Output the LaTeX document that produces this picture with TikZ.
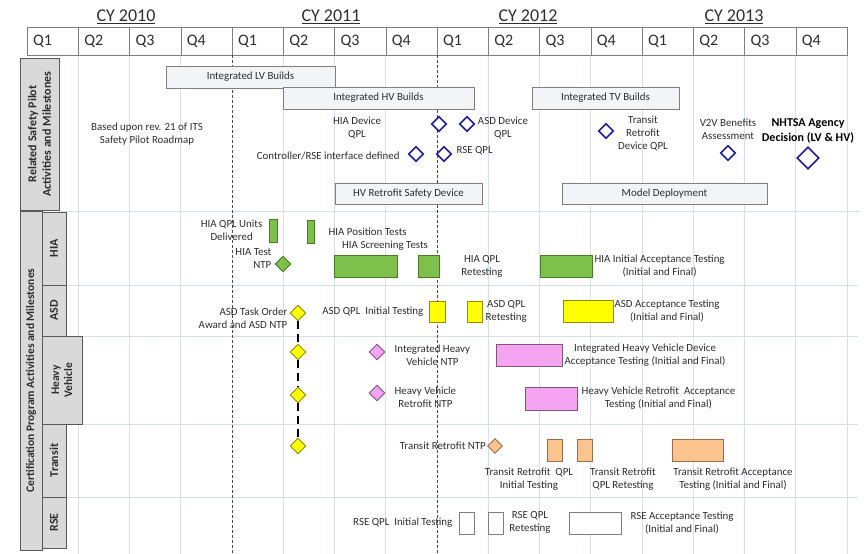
\documentclass[tikz,border=0pt]{standalone}
\usepackage{fontspec}
\setmainfont{Carlito}
\usepackage{xcolor}
\usepackage{tikz}
\usetikzlibrary{shapes.geometric}
\usetikzlibrary{positioning}
\definecolor{txt}{HTML}{2E2E2E}
\definecolor{hdrgray}{HTML}{7F7F7F}
\definecolor{gridc}{HTML}{D6E1E6}
\definecolor{phasefill}{HTML}{F1F5F7}
\definecolor{msblue}{HTML}{1E1E9E}
\definecolor{hiagreen}{HTML}{7DC04B}
\definecolor{hiadark}{HTML}{4C7A2B}
\definecolor{asdyel}{HTML}{FFFF00}
\definecolor{asddark}{HTML}{8C8C10}
\definecolor{hvpink}{HTML}{F4A4F0}
\definecolor{hvdark}{HTML}{7F567D}
\definecolor{trorange}{HTML}{FBC38D}
\definecolor{trdark}{HTML}{9A6E48}
\definecolor{sidefill}{HTML}{D9D9D9}
\definecolor{sidedark}{HTML}{595959}

\begin{document}
\begin{tikzpicture}[x=1pt,y=-1pt,node distance=4pt]
	\tikzstyle{lbl}=[text=txt, font=\fontsize{10.9}{13}\selectfont, align=center, inner sep=1pt]
	\tikzstyle{qbox}=[draw=hdrgray, text=txt, font=\fontsize{16}{18}\selectfont, minimum height=28pt, text width=39.25pt, inner xsep=6pt, align=left]
	\tikzstyle{phase}=[lbl, draw=hdrgray, fill=phasefill, minimum height=22pt, inner sep=0pt]
	\tikzstyle{ms}=[diamond, draw=msblue, line width=1.6pt, fill=white, minimum size=15pt, inner sep=0pt]
	\tikzstyle{bar}=[draw, line width=0.9pt, minimum height=22pt, inner sep=0pt]
	\tikzstyle{hiabar}=[bar, draw=hiadark, fill=hiagreen]
	\tikzstyle{asdbar}=[bar, draw=asddark, fill=asdyel]
	\tikzstyle{hvbar}=[bar, draw=hvdark, fill=hvpink]
	\tikzstyle{trbar}=[bar, draw=trdark, fill=trorange]
	\tikzstyle{rsebar}=[bar, draw=hdrgray, fill=white]
	\tikzstyle{hiams}=[ms, draw=hiadark, fill=hiagreen, line width=0.9pt, minimum size=16pt]
	\tikzstyle{asdms}=[ms, draw=asddark, fill=asdyel, line width=0.9pt, minimum size=16pt]
	\tikzstyle{hvms}=[ms, draw=hvdark, fill=hvpink, line width=0.9pt, minimum size=16pt]
	\tikzstyle{trms}=[ms, draw=trdark, fill=trorange, line width=0.9pt, minimum size=15pt]
	\tikzstyle{side}=[draw=sidedark, fill=sidefill, rotate=90, inner sep=1pt, align=center, text=txt, font=\bfseries\fontsize{12}{14.5}\selectfont]
	\tikzstyle{grid}=[draw=gridc, line width=0.6pt]
	\tikzstyle{yeardash}=[draw=black!70, line width=0.6pt, dash pattern=on 3pt off 2pt]
	\tikzstyle{ntpline}=[draw=black, line width=2pt, dash pattern=on 8pt off 5pt]
	\useasboundingbox (0,0) rectangle (865,554);

	% calendar header
	\node[lbl, font=\fontsize{18}{20}\selectfont] (cy10) at (126,17) {\underline{CY 2010}};
	\node[lbl, font=\fontsize{18}{20}\selectfont] (cy11) at (331,17) {\underline{CY 2011}};
	\node[lbl, font=\fontsize{18}{20}\selectfont] (cy12) at (528,17) {\underline{CY 2012}};
	\node[lbl, font=\fontsize{18}{20}\selectfont] (cy13) at (734,17) {\underline{CY 2013}};
	\foreach \q [count=\i from 0] in {1,2,3,4,1,2,3,4,1,2,3,4,1,2,3,4}
		\node[qbox] (q\i) at ({52.625+51.25*\i},41) {Q\q};

	% grid
	\foreach \x in {78.25,129.5,180.75,283.25,334.5,385.75,488.25,539.5,590.75,642,693.25,744.5,795.75,847}
		\draw[grid] (\x,56) -- (\x,554);
	\draw[grid] (59,211) -- (860,211);
	\draw[grid] (66,285) -- (858,285);
	\draw[grid] (82,336) -- (858,336);
	\draw[grid] (82,424) -- (858,424);
	\draw[grid] (66,497) -- (858,497);
	\draw[yeardash] (232.5,55) -- (232.5,554);
	\draw[yeardash] (437.5,55) -- (437.5,554);

	% side labels
	\node[side, minimum width=152pt, minimum height=39pt] (rsp) at (39.5,134) {Related Safety Pilot\\Activities and Milestones};
	\node[side, minimum width=339pt, minimum height=22pt, font=\bfseries\fontsize{11.5}{13}\selectfont] (cert) at (31,380.5) {Certification Program Activities and Milestones};
	\node[side, minimum width=73pt, minimum height=24pt] (shia) at (54,248.5) {HIA};
	\node[side, minimum width=51pt, minimum height=24pt] (sasd) at (54,310.5) {ASD};
	\node[side, minimum width=88pt, minimum height=40pt, font=\bfseries\fontsize{11.5}{13}\selectfont] (shv) at (62,380) {Heavy\\Vehicle};
	\node[side, minimum width=73pt, minimum height=24pt] (strans) at (54,460.5) {Transit};
	\node[side, minimum width=51pt, minimum height=24pt] (srse) at (54,522.5) {RSE};

	% safety pilot activities and milestones
	\node[phase, minimum width=169pt] (lvb) at (250.5,77) {Integrated LV Builds};
	\node[phase, minimum width=191pt] (hvb) at (378.5,98) {Integrated HV Builds};
	\node[phase, minimum width=147pt] (tvb) at (605.5,98) {Integrated TV Builds};
	\node[phase, minimum width=147pt, minimum height=21pt] (hvrsd) at (408.5,193.5) {HV Retrofit Safety Device};
	\node[phase, minimum width=205pt, minimum height=21pt] (mdep) at (664.5,193.5) {Model Deployment};
	\node[lbl] (note) at (147,134.5) {Based upon rev. 21 of ITS\\Safety Pilot Roadmap};
	\node[ms] (hiadq) at (439,124) {};
	\node[ms] (asddq) at (467,124) {};
	\node[ms] (ctrl) at (416,154) {};
	\node[ms] (rsedq) at (444,154) {};
	\node[ms] (trdq) at (606,131) {};
	\node[ms] (v2v) at (728,153) {};
	\node[ms, minimum size=22pt] (nhtsa) at (808,158) {};
	\node[lbl] (hiadqt) at (357,127.5) {HIA Device\\QPL};
	\node[lbl] (asddqt) at (503,127.5) {ASD Device\\QPL};
	\node[lbl, left=7pt of ctrl, yshift=-2pt] (ctrlt) {Controller/RSE interface defined};
	\node[lbl, right=3pt of rsedq, yshift=3pt] (rsedqt) {RSE QPL};
	\node[lbl] (trdqt) at (643,133.5) {Transit\\Retrofit\\Device QPL};
	\node[lbl, above=4pt of v2v] (v2vt) {V2V Benefits\\Assessment};
	\node[lbl, text=black, font=\bfseries\fontsize{12}{15}\selectfont, above=2pt of nhtsa] (nhtsat) {NHTSA Agency\\Decision (LV \& HV)};

	% HIA
	\node[hiabar, minimum width=8pt, minimum height=23pt] (hiau) at (273,230.5) {};
	\node[lbl, left=5pt of hiau] (hiaut) {HIA QPL Units\\Delivered};
	\node[hiams] (hiantp) at (283,264) {};
	\node[lbl, align=right, left=2pt of hiantp, yshift=5pt] (hiantpt) {HIA Test\\NTP};
	\node[hiabar, minimum width=7pt, minimum height=23pt] (hiapos) at (310.5,231.5) {};
	\node[lbl, right=13pt of hiapos] (hiapost) {HIA Position Tests};
	\node[lbl, anchor=west] (hiascrt) at (341,246) {HIA Screening Tests};
	\node[hiabar, minimum width=63pt] (hiascr) at (365.5,266) {};
	\node[hiabar, minimum width=21pt] (hiaqr) at (428.5,266) {};
	\node[lbl] (hiaqrt) at (482,266.5) {HIA QPL\\Retesting};
	\node[hiabar, minimum width=52pt] (hiaacc) at (566,266) {};
	\node[lbl, right=1pt of hiaacc] (hiaacct) {HIA Initial Acceptance Testing\\(Initial and Final)};

	% ASD
	\node[asdms] (asdntp) at (298,313) {};
	\node[lbl, align=right, left=1pt of asdntp, yshift=-5pt] (asdntpt) {ASD Task Order\\Award and ASD NTP};
	\node[asdbar, minimum width=16pt, minimum height=21pt] (asdq1) at (437,311.5) {};
	\node[lbl, left=4pt of asdq1] (asdq1t) {ASD QPL~ Initial Testing};
	\node[asdbar, minimum width=15pt, minimum height=21pt] (asdq2) at (474.5,311.5) {};
	\node[lbl, right=2pt of asdq2] (asdq2t) {ASD QPL\\Retesting};
	\node[asdbar, minimum width=50pt] (asdacc) at (588,311) {};
	\node[lbl, right=0pt of asdacc] (asdacct) {ASD Acceptance Testing\\(Initial and Final)};

	% Heavy Vehicle
	\node[asdms] (hvint) at (298,352) {};
	\node[asdms] (hvret) at (298,395) {};
	\node[asdms] (trans) at (298,446) {};
	\node[hvms] (hvintntp) at (377,352) {};
	\node[hvms] (hvretntp) at (377,393) {};
	\node[lbl, right=8pt of hvintntp, yshift=-3pt] (hvintntpt) {Integrated Heavy\\Vehicle NTP};
	\node[lbl, right=8pt of hvretntp, yshift=-4pt] (hvretntpt) {Heavy Vehicle\\Retrofit NTP};
	\node[hvbar, minimum width=66pt] (hvintacc) at (529,355) {};
	\node[lbl, right=1pt of hvintacc] (hvintacct) {Integrated Heavy Vehicle Device\\Acceptance Testing (Initial and Final)};
	\node[hvbar, minimum width=52pt, minimum height=23pt] (hvretacc) at (551,398.5) {};
	\node[lbl, right=3pt of hvretacc] (hvretacct) {Heavy Vehicle Retrofit~ Acceptance\\Testing (Initial and Final)};

	% Transit
	\node[trms] (trntp) at (495,446) {};
	\node[lbl, left=0pt of trntp] (trntpt) {Transit Retrofit NTP};
	\node[trbar, minimum width=15pt] (trq1) at (554.5,450) {};
	\node[trbar, minimum width=15pt] (trq2) at (584.5,450) {};
	\node[trbar, minimum width=51pt] (tracc) at (697.5,450) {};
	\node[lbl] (trq1t) at (529,479) {Transit Retrofit~ QPL\\Initial Testing};
	\node[lbl] (trq2t) at (623,479) {Transit Retrofit\\QPL Retesting};
	\node[lbl] (tracct) at (733,479) {Transit Retrofit Acceptance\\Testing (Initial and Final)};

	% RSE
	\node[rsebar, minimum width=15pt] (rse1) at (466.5,523) {};
	\node[rsebar, minimum width=15pt] (rse2) at (495.5,523) {};
	\node[rsebar, minimum width=52pt] (rseacc) at (595,523) {};
	\node[lbl, left=5pt of rse1] (rse1t) {RSE QPL~ Initial Testing};
	\node[lbl] (rse2t) at (530,522.5) {RSE QPL\\Retesting};
	\node[lbl] (rseacct) at (682,522.5) {RSE Acceptance Testing\\(Initial and Final)};

	\path
		(asdntp) edge[ntpline] (hvint)
		(hvint) edge[ntpline] (hvret)
		(hvret) edge[ntpline] (trans);
\end{tikzpicture}
\end{document}
